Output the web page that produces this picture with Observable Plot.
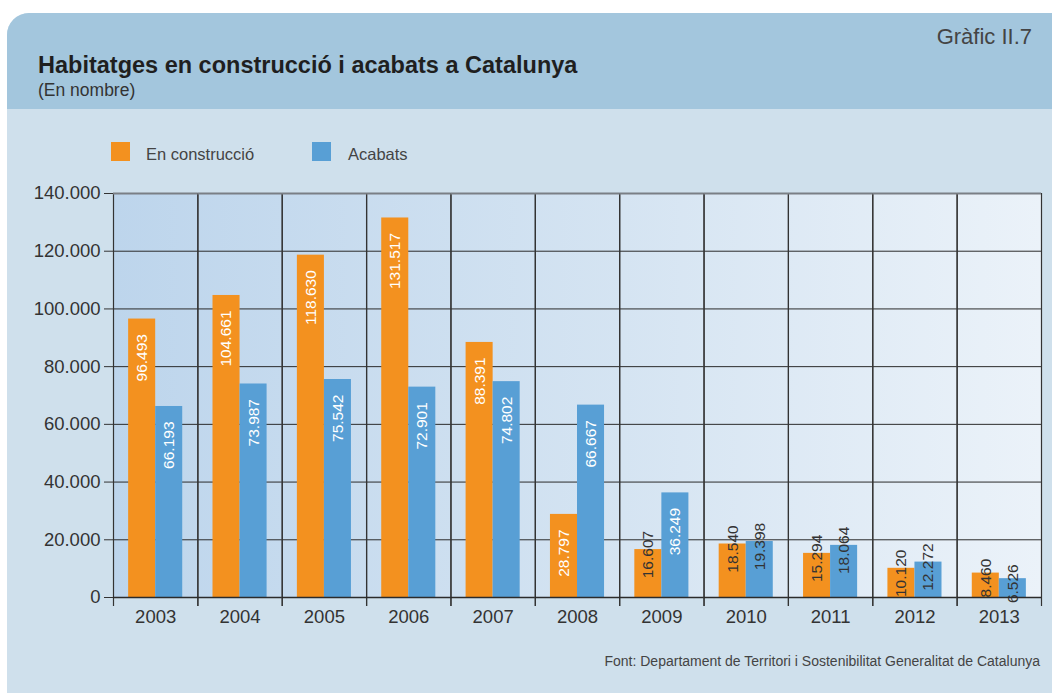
<!DOCTYPE html>
<html><head><meta charset="utf-8">
<script src="https://cdn.jsdelivr.net/npm/d3@7"></script>
<script src="https://cdn.jsdelivr.net/npm/@observablehq/plot@0.6"></script>
<style>
html,body{margin:0;padding:0}
body{background:#fff;font-family:"Liberation Sans",Arial,Helvetica,sans-serif;width:1052px;height:693px;overflow:hidden;position:relative}
#card{position:absolute;left:7px;top:13px;width:1045px;height:680px;background:#cfe0ec;border-top-left-radius:22px;overflow:hidden}
#header{position:absolute;left:0;top:0;width:100%;height:96px;background:#a3c6dd}
.t{position:absolute;white-space:nowrap;line-height:1}
#title{left:38px;top:54px;font-size:23.5px;font-weight:bold;color:#1f1f1f}
#subtitle{left:38px;top:82px;font-size:17.5px;color:#333}
#num{right:20px;top:25.5px;font-size:22px;color:#444}
#legend{position:absolute;left:111px;top:142px;height:20px;font-size:16.5px;color:#444}
.sw{position:absolute;top:0;width:19px;height:19px}
.lt{position:absolute;top:4px;line-height:1;white-space:nowrap}
#foot{right:12px;top:654px;font-size:14px;color:#444}
#chart{position:absolute;left:0;top:170px}
#chart svg{background-image:linear-gradient(to right,#bdd5ec,#d5e4f2 55%,#ebf2f9);background-repeat:no-repeat;background-position:113px 23px;background-size:928px 404px}
</style></head>
<body>
<div id="card"><div id="header"></div></div>
<div class="t" id="num">Gràfic II.7</div>
<div class="t" id="title">Habitatges en construcció i acabats a Catalunya</div>
<div class="t" id="subtitle">(En nombre)</div>
<div id="legend"></div>
<div id="chart"></div>
<div class="t" id="foot">Font: Departament de Territori i Sostenibilitat Generalitat de Catalunya</div>
<script>
const years = ["2003","2004","2005","2006","2007","2008","2009","2010","2011","2012","2013"];
const series = ["En construcció","Acabats"];
const enConstruccio = [96493,104661,118630,131517,88391,28797,16607,18540,15294,10120,8460];
const acabats = [66193,73987,75542,72901,74802,66667,36249,19398,18064,12272,6526];
const colors = ["#f3911f","#589fd5"];
const yTicks = [0,20000,40000,60000,80000,100000,120000,140000];

const fmt = v => d3.format(",")(v).replace(/,/g, ".");
const rows = [];
years.forEach((y, i) => {
  rows.push({year: y, series: series[0], value: enConstruccio[i]});
  rows.push({year: y, series: series[1], value: acabats[i]});
});
const big = rows.filter(d => d.value > 25000);
const small = rows.filter(d => d.value <= 25000);

// legend
const lg = document.getElementById("legend");
const legX = [[0, 35], [201, 237]];
series.forEach((s, i) => {
  const sw = document.createElement("div");
  sw.className = "sw"; sw.style.left = legX[i][0] + "px"; sw.style.background = colors[i];
  const t = document.createElement("div");
  t.className = "lt"; t.style.left = legX[i][1] + "px"; t.textContent = s;
  lg.appendChild(sw); lg.appendChild(t);
});

const chart = Plot.plot({
  width: 1052,
  height: 470,
  marginLeft: 113,
  marginRight: 11,
  marginTop: 23,
  marginBottom: 43,
  style: {fontFamily: '"Liberation Sans", Arial, sans-serif', fontSize: "18.5px", color: "#333", overflow: "visible"},
  fx: {domain: years, padding: 0, round: false, axis: "bottom", label: null, tickSize: 0, tickPadding: 12},
  x: {domain: series, paddingInner: 0, paddingOuter: 0.56, round: false, axis: null},
  y: {domain: [0, 140000], ticks: yTicks, tickFormat: fmt, label: null, tickSize: 9, tickPadding: 4},
  color: {domain: series, range: colors},
  marks: [
    Plot.ruleY(yTicks.slice(1, -1), {stroke: "#2b2b2b", strokeWidth: 1}),
    Plot.frame({anchor: "left", stroke: "#333", strokeWidth: 1.2, insetBottom: -8}),
    Plot.frame({anchor: "right", stroke: "#333", strokeWidth: 1.2, insetBottom: -8}),
    Plot.barY(rows, {fx: "year", x: "series", y: "value", fill: "series"}),
    Plot.text(big, {fx: "year", x: "series", y: "value", text: d => fmt(d.value), rotate: -90, textAnchor: "end", dy: 15, fill: "white", fontSize: 15.5}),
    Plot.text(small, {fx: "year", x: "series", y: "value", text: d => fmt(d.value), rotate: -90, textAnchor: "middle", dy: 5, fill: "#333", fontSize: 15.5}),
    Plot.ruleY([140000], {stroke: "#7a7f85", strokeWidth: 2}),
    Plot.ruleY([0], {stroke: "#2b2b2b", strokeWidth: 1.5})
  ]
});
document.getElementById("chart").appendChild(chart);
</script>
</body></html>
